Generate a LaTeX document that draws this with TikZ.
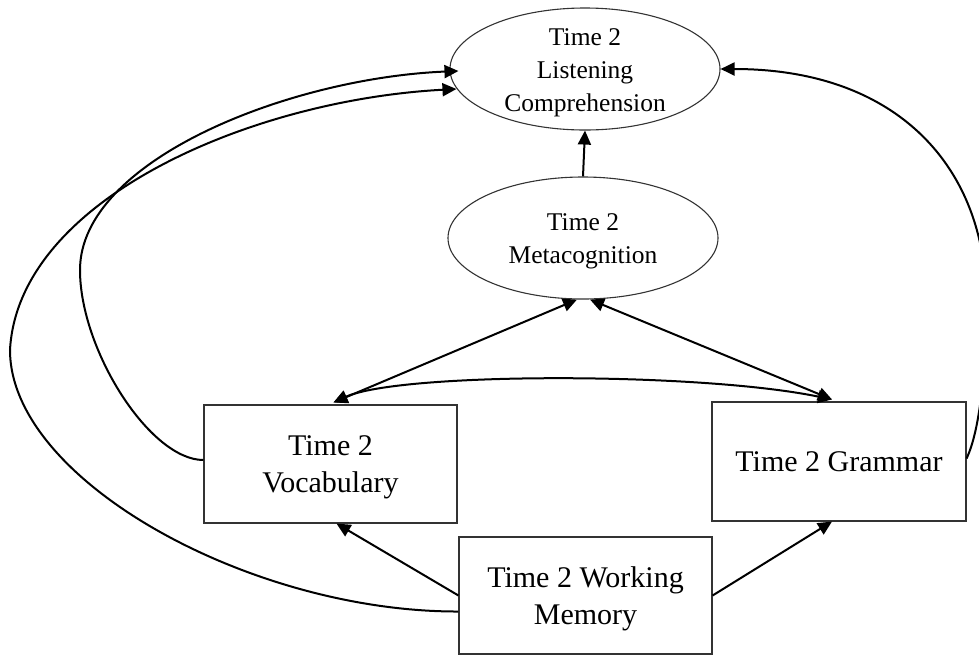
\documentclass[tikz,border=0pt]{standalone}
\usepackage{fontspec}
\setmainfont{Liberation Serif}
\usetikzlibrary{arrows.meta,shapes.geometric,calc}
\begin{document}
\begin{tikzpicture}[x=1pt,y=-1pt,
  latent/.style={draw=black!80,line width=1.1pt,ellipse,minimum width=270pt,minimum height=122pt,inner sep=0pt},
  observed/.style={draw=black!80,line width=1.1pt,rectangle,minimum width=253pt,minimum height=118pt,inner sep=0pt,align=center,text depth=0pt,font=\fontsize{30}{36.5}\selectfont},
  caption/.style={align=center,font=\fontsize{25.5}{33}\selectfont,inner sep=0pt},
  link/.style={line width=2pt,-{Triangle[length=14pt,width=13pt]}},
  duo/.style={line width=2pt,{Triangle[length=14pt,width=13pt]}-{Triangle[length=14pt,width=13pt]}}]

\useasboundingbox (0,0) rectangle (979,657);
\fill[white] (0,0) rectangle (979,657);

% latent variables
\node[latent] (lc) at (585,69) {};
\node[caption] (lctext) at ($(lc)+(0,4)$) {Time 2\\Listening\\Comprehension};
\node[latent] (meta) at (583,238) {};
\node[caption] (metatext) at ($(meta)+(0,3)$) {Time 2\\Metacognition};

% observed variables
\node[observed] (vocab) at (330.5,464) {Time 2\\Vocabulary};
\node[observed,minimum width=254pt,minimum height=119pt] (gram) at (839,461.5) {Time 2 Grammar};
\node[observed,minimum height=117pt] (wm) at (585.5,595.5) {Time 2 Working\\Memory};

% paths
\draw[link] (meta.north) -- (lc.south);
\draw[duo] ($(vocab.north)+(3,-2)$) -- ($(meta.south)+(-6,0)$);
\draw[duo] ($(gram.north)+(-7,-2)$) -- ($(meta.south)+(7,0)$);
\draw[duo] ($(vocab.north)+(3,-2)$) .. controls (400,372) and (700,372) .. ($(gram.north)+(-7,-2)$);
\draw[link] (wm.west) -- ($(vocab.south)+(6,0)$);
\draw[link] (wm.east) -- ($(gram.south)+(-7,0)$);

\coordinate (vbend) at (80,270);
\coordinate (wbend) at (10,350);
\coordinate (gbend) at (986,300);
\draw[link] ($(vocab.west)+(0,-4)$) .. controls (150,460) and (80,350) .. (vbend)
  .. controls (80,160) and (290,78) .. ($(lc.west)+(9,2)$);
\draw[link] ($(wm.west)+(0,16)$) .. controls (250,612) and (10,480) .. (wbend)
  .. controls (18,200) and (250,100) .. ($(lc.west)+(7,20)$);
\draw[link] ($(gram.east)+(0,-3)$) .. controls (980,430) and (986,370) .. (gbend)
  .. controls (986,170) and (900,69) .. (lc.east);
\end{tikzpicture}
\end{document}
